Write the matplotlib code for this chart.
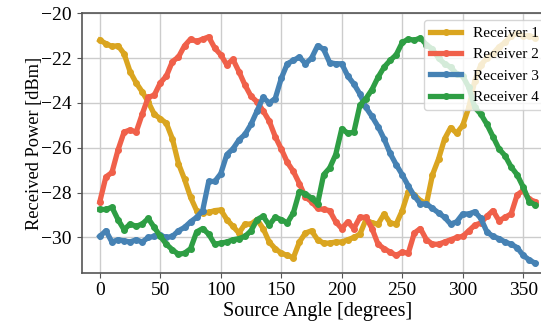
import matplotlib.pyplot as plt
import numpy as np

plt.rcParams['font.family'] = ['Liberation Serif', 'DejaVu Serif']

# source angle in degrees, 5 degree steps
angles = list(range(0, 361, 5))

rx1 = [-21.2, -21.35, -21.48, -21.44, -21.8, -22.6, -23.1, -23.5, -23.95, -24.5,
       -24.7, -24.9, -25.6, -26.7, -27.4, -28.2, -28.8, -28.9, -28.88, -28.8,
       -28.77, -29.2, -29.5, -29.8, -29.4, -29.4, -29.2, -29.6, -30.2, -30.5,
       -30.7, -30.8, -30.9, -30.2, -29.8, -29.7, -30.1, -30.25, -30.25, -30.2,
       -30.2, -30.1, -30.0, -29.85, -29.2, -29.35, -29.4, -28.95, -29.35, -29.4,
       -28.8, -27.95, -28.1, -28.35, -28.5, -27.2, -26.5, -25.6, -25.1, -25.35,
       -25.0, -24.2, -23.0, -22.3, -22.0, -21.8, -21.5, -21.3, -21.0, -20.9,
       -21.0, -21.0, -21.1]

rx2 = [-28.4, -27.3, -27.1, -26.1, -25.3, -25.2, -25.3, -24.5, -23.75, -23.65,
       -23.1, -22.8, -22.15, -21.95, -21.45, -21.15, -21.25, -21.15, -21.05, -21.55,
       -21.85, -22.3, -22.05, -22.6, -23.2, -23.7, -23.95, -24.35, -24.8, -25.5,
       -26.05, -26.65, -27.05, -27.6, -28.2, -28.4, -28.7, -28.75, -28.8, -29.3,
       -29.6, -29.3, -29.6, -29.1, -29.1, -29.6, -30.3, -30.5, -30.65, -30.8,
       -30.65, -30.7, -29.8, -29.6, -30.1, -30.3, -30.3, -30.2, -30.1, -30.0,
       -29.95, -29.7, -29.45, -29.35, -29.05, -28.8, -29.25, -29.1, -28.95, -28.1,
       -27.9, -28.3, -28.4]

rx3 = [-29.95, -29.7, -30.2, -30.1, -30.15, -30.2, -30.1, -30.2, -30.0, -29.95,
       -29.9, -30.0, -29.95, -29.7, -29.55, -29.3, -29.1, -28.8, -27.5, -27.5,
       -27.15, -26.3, -26.05, -25.65, -25.4, -24.95, -24.35, -23.75, -24.0, -23.8,
       -22.9, -22.25, -22.1, -21.95, -22.25, -22.0, -21.45, -21.6, -22.2, -22.25,
       -22.25, -22.8, -23.15, -23.6, -24.2, -24.6, -25.05, -25.6, -26.25, -26.75,
       -27.2, -27.7, -28.15, -28.5, -28.5, -28.7, -28.9, -29.1, -29.4, -29.3,
       -28.95, -28.95, -28.85, -29.15, -29.75, -29.95, -30.05, -30.2, -30.3, -30.45,
       -30.8, -31.0, -31.15]

rx4 = [-28.75, -28.75, -28.65, -29.2, -29.65, -29.4, -29.5, -29.4, -29.15, -29.55,
       -29.95, -30.3, -30.55, -30.75, -30.7, -30.5, -29.75, -29.6, -29.85, -30.3,
       -30.25, -30.2, -30.1, -30.05, -29.95, -29.7, -29.2, -29.05, -29.45, -29.1,
       -29.2, -29.35, -28.9, -27.95, -28.05, -28.25, -28.5, -27.2, -26.9, -26.3,
       -25.15, -25.35, -25.3, -24.1, -23.8, -23.4, -22.85, -22.4, -22.1, -21.85,
       -21.3, -21.15, -21.2, -21.1, -21.4, -21.6, -22.0, -22.25, -22.4, -22.7,
       -22.8, -23.3, -24.2, -24.5, -24.95, -25.5, -26.05, -26.35, -26.85, -27.2,
       -27.75, -28.4, -28.55]

labels = ['Receiver 1', 'Receiver 2', 'Receiver 3', 'Receiver 4']
colors = ['#DAA520', '#F0604A', '#4682B4', '#2E9E44']

fig = plt.figure(figsize=(5.41, 3.21), dpi=100)
ax = fig.add_axes([0.151, 0.1505, 0.872, 0.808])

for ys, lab, c in zip([rx1, rx2, rx3, rx4], labels, colors):
    ax.plot(angles, ys, '-', marker='o', markersize=4, linewidth=3.8,
            color=c, label=lab)

ax.set_xlim(-15, 375)
ax.set_ylim(-31.57, -20)
ax.set_xticks(np.arange(0, 351, 50))
ax.set_yticks(np.arange(-30, -19, 2))
ax.grid(True, color='#cccccc', linewidth=1.0)
ax.set_axisbelow(True)
for s in ax.spines.values():
    s.set_color('#555555')
    s.set_linewidth(1.2)
ax.tick_params(labelsize=14, color='#555555', length=3.5)
ax.set_xlabel('Source Angle [degrees]', fontsize=14.5, labelpad=2)
ax.set_ylabel('Received Power [dBm]', fontsize=13.2, labelpad=-1)
ax.legend(loc='upper left', bbox_to_anchor=(0.726, 0.974), borderaxespad=0,
          fontsize=11, numpoints=1, framealpha=0.8)

fig.savefig('out.png', dpi=100)
